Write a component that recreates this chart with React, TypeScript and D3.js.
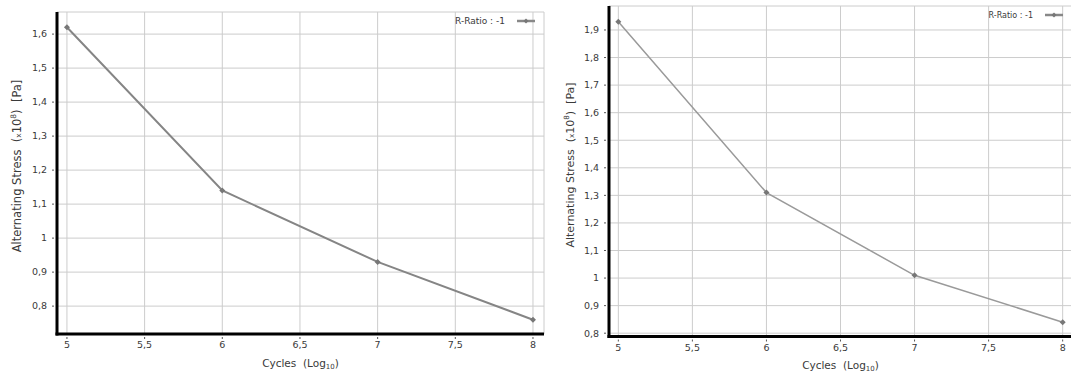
import * as d3 from "d3";
import React from "react";

// S-N curve values
const cycles = [5, 6, 7, 8];
const stressLeft = [1.62, 1.14, 0.93, 0.76];
const stressRight = [1.93, 1.31, 1.01, 0.84];

const xTicks = [5, 5.5, 6, 6.5, 7, 7.5, 8];
const yTicksLeft = [0.8, 0.9, 1, 1.1, 1.2, 1.3, 1.4, 1.5, 1.6];
const yTicksRight = [0.8, 0.9, 1, 1.1, 1.2, 1.3, 1.4, 1.5, 1.6, 1.7, 1.8, 1.9];

const legendLabel = "R-Ratio : -1";

const fmt = (v: number) => String(v).replace(".", ",");

interface PanelProps {
  values: number[];
  yTicks: number[];
  left: number;
  right: number;
  top: number;
  bottom: number;
  xDomain: [number, number];
  yDomain: [number, number];
  yLabelX: number;
  yLabelY: number;
  yLabelFont: number;
  legendFont: number;
  lineColor: string;
  lineWidth: number;
}

const Panel: React.FC<PanelProps> = ({
  values,
  yTicks,
  left,
  right,
  top,
  bottom,
  xDomain,
  yDomain,
  yLabelX,
  yLabelY,
  yLabelFont,
  legendFont,
  lineColor,
  lineWidth,
}) => {
  const x = d3.scaleLinear().domain(xDomain).range([left, right]);
  const y = d3.scaleLinear().domain(yDomain).range([bottom, top]);
  const pts = cycles.map((c, i) => [c, values[i]] as [number, number]);
  const line = d3
    .line<[number, number]>()
    .x((d) => x(d[0]))
    .y((d) => y(d[1]));

  const grid = "#cccccc";
  const text = "#3a3a3a";
  const small = yLabelFont * 0.65;
  const diamond = (cx: number, cy: number, r: number) =>
    `M${cx},${cy - r}L${cx + r},${cy}L${cx},${cy + r}L${cx - r},${cy}Z`;

  return (
    <g fontFamily="DejaVu Sans, sans-serif">
      {/* grid */}
      <line x1={left} x2={right} y1={top} y2={top} stroke={grid} />
      <line x1={right} x2={right} y1={top} y2={bottom} stroke={grid} />
      {xTicks.map((t) => (
        <line key={"gx" + t} x1={x(t)} x2={x(t)} y1={top} y2={bottom} stroke={grid} />
      ))}
      {yTicks.map((t) => (
        <line key={"gy" + t} x1={left} x2={right} y1={y(t)} y2={y(t)} stroke={grid} />
      ))}

      {/* y ticks */}
      {yTicks.map((t) => (
        <g key={"ty" + t}>
          <line x1={left - 5} x2={left - 3} y1={y(t)} y2={y(t)} stroke="#555" />
          <text
            x={left - 10}
            y={y(t)}
            dy="0.35em"
            textAnchor="end"
            fontSize={9.5}
            fill={text}
          >
            {fmt(t)}
          </text>
        </g>
      ))}

      {/* x ticks */}
      {xTicks.map((t) => (
        <g key={"tx" + t}>
          <line x1={x(t)} x2={x(t)} y1={bottom + 3} y2={bottom + 5} stroke="#555" />
          <text
            x={x(t)}
            y={bottom + 11}
            dy="0.35em"
            textAnchor="middle"
            fontSize={9.5}
            fill={text}
          >
            {fmt(t)}
          </text>
        </g>
      ))}

      {/* axes */}
      <line x1={left} x2={left} y1={top} y2={bottom + 1.5} stroke="#000" strokeWidth={3} />
      <line x1={left - 1.5} x2={right} y1={bottom} y2={bottom} stroke="#000" strokeWidth={3} />

      {/* series */}
      <path d={line(pts) || ""} fill="none" stroke={lineColor} strokeWidth={lineWidth} />
      {pts.map((p, i) => (
        <path key={"pt" + i} d={diamond(x(p[0]), y(p[1]), 3)} fill="#777" />
      ))}

      {/* legend */}
      <text
        x={right - 39}
        y={top + 9}
        dy="0.35em"
        textAnchor="end"
        fontSize={legendFont}
        fill={text}
      >
        {legendLabel}
      </text>
      <line
        x1={right - 27}
        x2={right - 9}
        y1={top + 9}
        y2={top + 9}
        stroke="#888"
        strokeWidth={2.5}
      />
      <path d={diamond(right - 18, top + 9, 2.5)} fill="#777" />

      {/* axis titles */}
      <text
        transform={`translate(${yLabelX},${yLabelY}) rotate(-90)`}
        dy="0.35em"
        textAnchor="middle"
        fontSize={yLabelFont}
        fill={text}
      >
        Alternating Stress{"\u00a0\u00a0"}(
        <tspan fontSize={small}>x</tspan>
        10
        <tspan fontSize={small} dy={-yLabelFont * 0.4}>8</tspan>
        <tspan dy={yLabelFont * 0.4}>){"\u00a0\u00a0"}[Pa]</tspan>
      </text>
      <text
        x={(left + right) / 2}
        y={bottom + 29}
        dy="0.35em"
        textAnchor="middle"
        fontSize={10.5}
        fill={text}
      >
        Cycles{"\u00a0\u00a0"}(Log
        <tspan fontSize={7} dy="2">10</tspan>
        <tspan dy="-2">)</tspan>
      </text>
    </g>
  );
};

export default function App() {
  return (
    <div style={{ position: "absolute", left: 0, top: 0 }}>
      <svg width={1071} height={374} style={{ display: "block", background: "#fff" }}>
        <Panel
          values={stressLeft}
          yTicks={yTicksLeft}
          left={57}
          right={544}
          top={12}
          bottom={334}
          xDomain={[4.936, 8.071]}
          yDomain={[0.718, 1.665]}
          yLabelX={17}
          yLabelY={166}
          yLabelFont={11.5}
          legendFont={9}
          lineColor="#858585"
          lineWidth={2}
        />
        <Panel
          values={stressRight}
          yTicks={yTicksRight}
          left={609}
          right={1072}
          top={6}
          bottom={336.5}
          xDomain={[4.937, 8.063]}
          yDomain={[0.788, 1.987]}
          yLabelX={570}
          yLabelY={165}
          yLabelFont={11}
          legendFont={8}
          lineColor="#9a9a9a"
          lineWidth={1.5}
        />
      </svg>
    </div>
  );
}
